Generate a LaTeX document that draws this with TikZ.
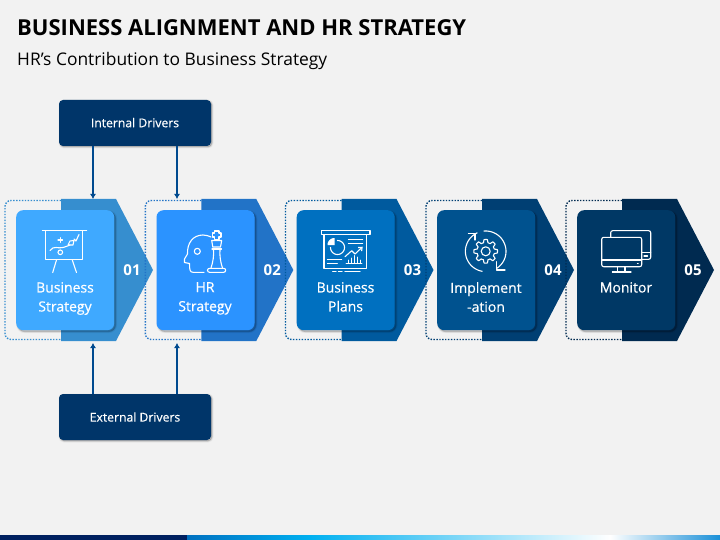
\documentclass[tikz,border=0pt]{standalone}
\usepackage{fontspec}
\setmainfont{Open Sans}
\newfontfamily\semifont[FakeBold=0.4]{Open Sans}
\usetikzlibrary{arrows.meta}
\definecolor{bgc}{HTML}{F2F2F2}
\definecolor{cardA}{HTML}{3FA9FF}\definecolor{chevA}{HTML}{368ECF}
\definecolor{cardB}{HTML}{2B93FF}\definecolor{chevB}{HTML}{2273C7}
\definecolor{cardC}{HTML}{0070C0}\definecolor{chevC}{HTML}{005A9E}
\definecolor{cardD}{HTML}{00528F}\definecolor{chevD}{HTML}{003F73}
\definecolor{cardE}{HTML}{003865}\definecolor{chevE}{HTML}{002A50}
\definecolor{drv}{HTML}{003569}
\definecolor{arr}{HTML}{004A8F}
\definecolor{barA}{HTML}{002060}\definecolor{barB}{HTML}{0070C0}
\definecolor{barC}{HTML}{00B0F0}\definecolor{barD}{HTML}{1A90D8}
\tikzset{
  softshadow/.style={
    preaction={fill=black,draw=black,line width=3pt,draw opacity=.04,fill opacity=.04,transform canvas={shift={(#1,-#1)}}},
    preaction={fill=black,draw=black,line width=1.8pt,draw opacity=.06,fill opacity=.06,transform canvas={shift={(#1,-#1)}}},
    preaction={fill=black,draw=black,line width=.6pt,draw opacity=.08,fill opacity=.08,transform canvas={shift={(#1,-#1)}}}},
  cardbox/.style={rectangle,rounded corners=7pt,minimum width=98pt,minimum height=120pt,inner sep=0pt,anchor=north west,softshadow=1.5pt},
  drvbox/.style={rectangle,rounded corners=4pt,fill=drv,minimum width=152pt,minimum height=46pt,inner sep=0pt,text=white,font=\semifont\fontsize{12.2}{14}\selectfont,softshadow=1pt},
  cardtext/.style={text=white,align=center,font=\semifont\fontsize{14}{19}\selectfont,anchor=north,inner sep=0pt},
  numtext/.style={text=white,font=\fontsize{15}{16}\bfseries\selectfont,inner sep=0pt},
  link/.style={draw=arr,line width=1.2pt,-{Latex[length=5pt,width=6pt]}},
  icn/.style={draw=white,line width=1.1pt,line cap=round,line join=round},
  dots/.style={line width=1.4pt,dash pattern=on 1.4pt off 1.5pt,rounded corners=6pt}
}
\begin{document}
\begin{tikzpicture}[x=1pt,y=-1pt]
\useasboundingbox (0,0) rectangle (720,540);
\fill[bgc] (0,0) rectangle (720,540);
% bottom bar
\fill[barA] (0,535) rectangle (187,540);
\shade[left color=barB,right color=barC] (187,535) rectangle (310,540);
\shade[left color=barC,right color=white] (310,535) rectangle (610,540);
\shade[left color=white,right color=barD] (610,535) rectangle (720,540);
% titles
\node[anchor=base west,inner sep=0pt,font=\fontsize{22}{24}\bfseries\selectfont,text=black] (title) at (17,36) {BUSINESS ALIGNMENT AND HR STRATEGY};
\node[anchor=base west,inner sep=0pt,font=\fontsize{17.4}{20}\selectfont,text=black] (subtitle) at (17,66) {HR’s Contribution to Business Strategy};
% stages
\foreach \nm/\cl/\ch/\lft/\num in {a/cardA/chevA/0/01,b/cardB/chevB/140.3/02,c/cardC/chevC/280.5/03,d/cardD/chevD/421/04,e/cardE/chevE/561/05}{
  \begin{scope}[shift={(\lft,0)}]
    \draw[\ch,dots] (61,200.5) -- (5,200.5) -- (5,339.5) -- (61,339.5);
    \fill[\ch] (61,199) -- (116,199) -- (153,270) -- (116,341) -- (61,341) -- cycle;
    \node[cardbox,fill=\cl] (card\nm) at (16,210) {};
    \node[numtext] (num\nm) at (132,270) {\num};
  \end{scope}
}
\node[cardtext] (labela) at (65,282) {Business\\Strategy};
\node[cardtext] (labelb) at (205,282) {HR\\Strategy};
\node[cardtext] (labelc) at (345.5,282) {Business\\Plans};
\node[cardtext] (labeld) at (486,282) {Implement\\-ation};
\node[cardtext] (labele) at (626,282) {Monitor};
% drivers
\node[drvbox] (internal) at (135,123) {\raisebox{.8pt}{Internal Drivers}};
\node[drvbox] (external) at (135,417) {External Drivers};
\coordinate (ta) at (93,199);\coordinate (tb) at (177,199);
\coordinate (ba) at (93,343);\coordinate (bb) at (177,343);
\draw[link] (internal.south -| ta) -- (ta);
\draw[link] (internal.south -| tb) -- (tb);
\draw[link] (external.north -| ba) -- (ba);
\draw[link] (external.north -| bb) -- (bb);
% icon 1: strategy board
\draw[icn] (42.5,230.7) -- (86.7,230.7);
\draw[icn] (45.7,230.7) -- (45.7,259.5) -- (82.7,259.5) -- (82.7,230.7);
\draw[icn] (56.5,260) -- (52.7,272.5);
\draw[icn] (72.3,260) -- (76.5,272.5);
\draw[icn] (60.3,252.3) circle[radius=2.3pt];
\draw[icn] (50,250.5) .. controls (54,245) and (58,249) .. (63,247.5) .. controls (66,246.5) and (68,246) .. (70,245);
\draw[icn] (58,240) -- (62.5,240) (60.3,237.7) -- (60.3,242.3);
\draw[icn] (74,239) -- (76,241) -- (79,234.5);
\draw[icn] (68,245) -- (70,241) -- (74,240.5) -- (73,245) -- cycle;
% icon 2: head and king
\draw[icn] (204,272.3) -- (193,272.3) .. controls (190,272.3) and (189.5,270) .. (189.5,263.5) -- (184.5,262.5) -- (184.5,259) -- (187.5,254) .. controls (187,243) and (193,235) .. (203,235) .. controls (206,235) and (209,236) .. (211,237);
\draw[icn] (197.3,251.3) circle[radius=3pt];
\draw[icn] (214.5,231) -- (219,231) -- (219,233) -- (221,233) -- (221,237) -- (219,237) -- (219,239.5) -- (214.5,239.5) -- (214.5,237) -- (212.5,237) -- (212.5,233) -- (214.5,233) -- cycle;
\draw[icn] (211.7,240.5) -- (221.7,240.5) -- (220.5,247) -- (212.8,247) -- cycle;
\draw[icn] (212,249) -- (221.5,249);
\draw[icn] (213.5,249) .. controls (214,256) and (213,262) .. (211,268) (220,249) .. controls (219.5,256) and (220.5,262) .. (222.5,268);
\draw[icn,rounded corners=2pt] (207.5,268.3) rectangle (225.7,272.3);
% icon 3: presentation board
\draw[icn] (321.3,230.7) rectangle (370,234.7);
\draw[icn] (324,234.7) -- (324,268.3) -- (366.7,268.3) -- (366.7,234.7);
\draw[icn] (332.7,271.7) -- (336,271.7) (338.5,271.7) -- (342,271.7) (345,271.7) -- (360,271.7);
\draw[icn] plot[smooth,samples=30,domain=90:-180] ({337.5+7*cos(\x)},{247.5-7*sin(\x)});
\fill[white] plot[smooth,samples=12,domain=90:180] ({334.5+7*cos(\x)},{245-7*sin(\x)}) -- (334.5,245) -- cycle;
\draw[icn] (348.3,239.3) -- (362.7,239.3) (348.3,243.3) -- (362.7,243.3);
\draw[icn] (327.3,259.3) -- (341.7,259.3) (327.3,263.3) -- (337.3,263.3);
\draw[icn,-{Straight Barb[length=3pt,width=5pt]}] (345,256.7) -- (351.7,250.7) -- (355,254) -- (362.7,246.7);
\draw[icn,line width=.8pt] (346,263.5) -- (362,263.5);
\draw[icn,line width=.8pt] (348,263.5) -- (348,260) (351,263.5) -- (351,258) (354,263.5) -- (354,255.5) (357,263.5) -- (357,257) (360,263.5) -- (360,260);
% icon 4: cycle and gear
\draw[icn] plot[smooth,samples=40,domain=260:115] ({485.7+20.3*cos(\x)},{251.3-20.3*sin(\x)});
\draw[icn] plot[smooth,samples=40,domain=95:-58] ({485.7+20.3*cos(\x)},{251.3-20.3*sin(\x)});
\draw[icn] (468.5,233.3) -- (475,233.3) -- (475,240);
\draw[icn] (505,270) -- (496.7,270) -- (496.7,261.7);
\draw[icn] plot[samples=241,domain=0:360] ({485.7+(10.3+1.5*max(-1,min(1,2.2*cos(8*\x))))*cos(\x)},{251.3-(10.3+1.5*max(-1,min(1,2.2*cos(8*\x))))*sin(\x)}) -- cycle;
\draw[icn] (485.7,251.3) circle[radius=4.5pt];
% icon 5: monitors
\draw[icn,rounded corners=2pt] (610.7,237) -- (610.7,230.7) -- (650.7,230.7) -- (650.7,259.3) -- (641.7,259.3);
\draw[icn] (641.7,252.5) -- (650.7,252.5);
\draw[icn] (644,256) -- (647.5,256);
\draw[icn,rounded corners=2pt] (601.7,237.3) rectangle (641.7,266.7);
\draw[icn] (601.7,260) -- (641.7,260);
\draw[icn,line width=.8pt] (637.3,263) -- (638.3,263);
\draw[icn] (617.3,266.7) -- (617.3,272) (625,266.7) -- (625,272);
\draw[icn] (612.3,272) -- (631,272);
\end{tikzpicture}
\end{document}
